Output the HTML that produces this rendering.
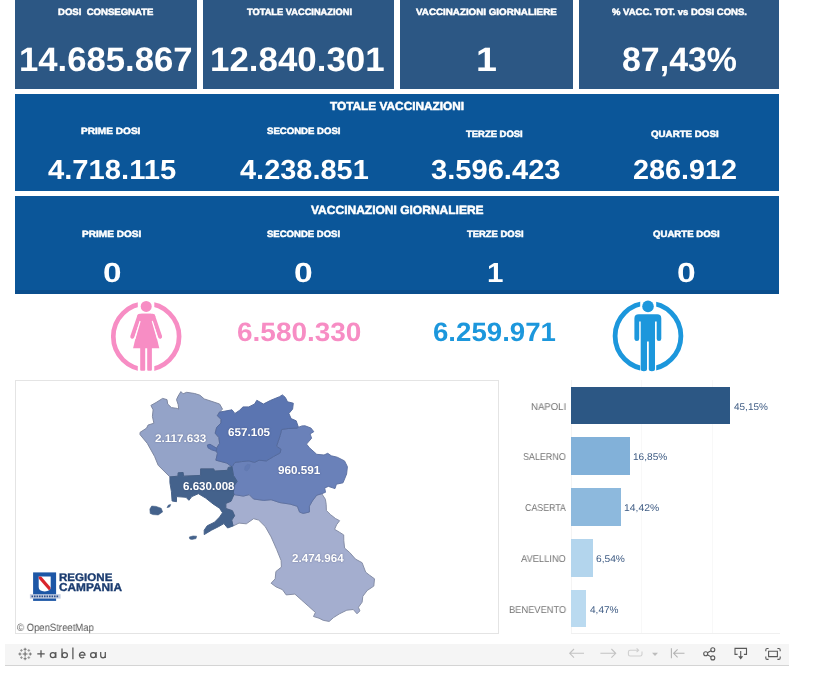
<!DOCTYPE html>
<html lang="it"><head><meta charset="utf-8"><title>Vaccinazioni Regione Campania</title>
<style>
html,body{margin:0;padding:0;background:#fff;}
body{width:822px;height:689px;overflow:hidden;font-family:"Liberation Sans",sans-serif;}
#page{position:relative;width:822px;height:689px;overflow:hidden;background:#fff;}
.bx{position:absolute;}
.k{background:#2c5784;top:0;height:89px;}
.band{background:#0b5699;left:15px;width:764px;}
.t{position:absolute;will-change:transform;text-rendering:geometricPrecision;white-space:pre;line-height:1;transform-origin:0 0;font-family:"Liberation Sans",sans-serif;}
#gfx{position:absolute;left:0;top:0;width:822px;height:689px;}
#mapbox{left:15px;top:380px;width:482px;height:252px;border:1px solid #e4e4e4;background:#fff;}
#tb{left:5px;top:644px;width:784px;height:21px;background:#f5f5f5;border-bottom:1px solid #d4d4d4;}
#osmbg{left:16px;top:621px;width:80px;height:12px;background:rgba(255,255,255,.8);}

</style></head>
<body>
<div id="page">
<div class="bx k" style="left:15px;width:182px"></div>
<div class="bx k" style="left:203px;width:191px"></div>
<div class="bx k" style="left:400px;width:173px"></div>
<div class="bx k" style="left:579px;width:200px"></div>
<div class="bx band" style="top:94px;height:97px"></div>
<div class="bx band" style="top:196px;height:98px"></div>
<div class="bx" id="strip" style="left:15px;top:290px;width:764px;height:4px;background:#0a4e8d"></div>
<div class="bx" id="mapbox"></div>
<div class="bx" id="tb"></div>

<svg id="gfx" viewBox="0 0 822 689" width="822" height="689">
<defs>
<clipPath id="cf"><rect x="100" y="295" width="37.8" height="85"/><rect x="154.3" y="295" width="40" height="85"/></clipPath>
<clipPath id="cm"><rect x="600" y="295" width="40.2" height="85"/><rect x="656.2" y="295" width="40" height="85"/></clipPath>
<clipPath id="sh"><path d="M38.7 576.4H50.7V587Q50.7 591.4 44.7 591.4Q38.7 591.4 38.7 587Z"/></clipPath>
</defs>
<!-- FEMALE ICON -->
<g fill="#f78dc4">
<circle cx="146.2" cy="336.6" r="32.9" fill="none" stroke="#f78dc4" stroke-width="4.7" clip-path="url(#cf)"/>
<circle cx="146.2" cy="306.4" r="5.5"/>
<path d="M141.3 313.8H151.1L159.3 348.2H133.1Z"/>
<path d="M139.6 313.8H152.8Q155 314.2 155.4 316.4L153 320H139.4L137.1 316.4Q137.5 314.2 139.6 313.8Z"/>
<path d="M139.2 316.4L132.3 336.7M153.2 316.4L160.1 336.7" stroke="#f78dc4" stroke-width="4.1" stroke-linecap="round" fill="none"/>
<path d="M140.1 321.2L134.9 338.8M152.3 321.2L157.5 338.8" stroke="#fff" stroke-width="1.2" fill="none"/>
<rect x="140.2" y="347" width="5" height="23.8" rx="1"/>
<rect x="147.2" y="347" width="4.7" height="23.8" rx="1"/>
</g>
<!-- MALE ICON -->
<g fill="#1c97dc">
<circle cx="648" cy="336" r="32.9" fill="none" stroke="#1c97dc" stroke-width="4.8" clip-path="url(#cm)"/>
<circle cx="648" cy="306.4" r="5.8"/>
<path d="M638.8 314.2H657.2Q661.3 314.2 661.3 318.4V338.8Q661.3 341.1 659 341.1Q656.7 341.1 656.7 338.8V321.5H655V369Q655 371.2 651.9 371.2Q648.8 371.2 648.8 369V341.5H647V369Q647 371.2 643.9 371.2Q640.7 371.2 640.7 369V321.5H639.2V338.8Q639.2 341.1 636.9 341.1Q634.4 341.1 634.4 338.8V318.4Q634.4 314.2 638.8 314.2Z"/>
</g>
<!-- BAR CHART -->
<g shape-rendering="crispEdges">
<rect x="571" y="380" width="1" height="253" fill="#f4f4f4"/>
<rect x="641" y="380" width="1" height="253" fill="#f8f8f8"/>
<rect x="712" y="380" width="1" height="253" fill="#f8f8f8"/>
<rect x="571" y="633" width="209" height="1" fill="#f0f0f0"/>
<rect x="571" y="386.6" width="159" height="37.6" fill="#2c5784"/>
<rect x="571" y="437.2" width="59" height="37.5" fill="#82b1d9"/>
<rect x="571" y="488" width="50" height="37.7" fill="#8db9dd"/>
<rect x="571" y="539.3" width="21.9" height="37.6" fill="#b3d5ed"/>
<rect x="571" y="589.6" width="14.9" height="37.7" fill="#badaf0"/>
</g>
<!-- MAP -->
<g stroke="#717a92" stroke-width=".95" stroke-linejoin="round">
<polygon points="233.9,494.6 243.4,496.1 249.2,494.6 253.6,499 263.8,500.4 271.1,499.7 279.9,502.6 290.1,504.1 297.4,506.3 299.6,512.1 303.2,513.4 309.4,512 309.4,506.1 312.3,501 316.7,495.2 321.8,493.7 325.4,499.3 326.2,504.4 326.4,510.5 330.5,514.6 335.6,518.6 339.6,520.7 336.6,524.7 334.6,529.3 339.6,532.3 343.7,534.9 343.8,540.8 344.6,548.1 349.7,552.5 355.5,559.1 362.1,562.7 365.7,572.2 369.4,575.1 374.5,578.8 373.8,586.1 367.2,590.5 362.8,596.3 362.1,602.2 358.4,607.3 359.9,610.9 357,613.8 353.3,609.5 346.8,610.2 339.5,613.8 333.6,617.5 329.2,621.4 323.4,620.4 319,618.2 313.5,616.5 315.4,612.4 308.8,606.5 301.5,600 294.9,594.1 286.2,594.9 282.5,589.7 275.9,586.8 271.1,583.2 275.2,578.8 275.9,571.5 281.4,567.1 281.1,560.5 276.7,549.6 271.1,536.9 265.3,526.7 258.7,520.1 253.6,518.7 246.3,523.8 239,523.1 233.1,526 231.7,520.1 234.6,515.8 232.4,510.7 225.8,508.5 225.8,503.4 231,501.2" fill="#a4aecf" stroke="#838ba3"/>
<polygon points="140,432.4 146.6,428.1 148,425.1 153.9,423.2 152.4,416.4 153.1,409.8 150.9,405.4 156.1,402.5 162.6,398.4 167,399.6 167.7,404 171.4,407.6 177.2,408.4 178.7,409.1 178.2,404.7 176.5,399.6 178.2,396 180.9,391.6 183.1,393.8 186.7,392.3 194.7,393.5 199.9,395.2 204.2,398.9 213,401.8 219.6,404 222.5,409.1 219.6,412 217.4,415.7 221,419.3 221,423 216.7,427.3 215.2,433.2 218.9,437.6 219.6,443.4 215.9,449.2 217.4,453.6 215.9,460.2 226.9,463.1 232,466.8 228.3,467.4 227.6,470.3 214.5,471.1 213.7,468.9 200.6,468.9 200.6,475.4 183.5,476.2 183.1,472.5 178.2,472.8 178,476.2 169.9,476.9 158.2,465.3 154.6,456.5 147.3,443.4 140,434.6" fill="#94a3c8" stroke="#7a849e"/>
<polygon points="298.4,427.3 302,425.9 305,425.8 310.9,428 313.8,431.7 310.1,433.9 311.6,438.2 306.5,444.1 309.4,447.7 316.7,454.3 324,455 327.7,453.3 331.3,455.8 337.2,457.2 344.5,460.9 347.4,466.7 346.6,474 343,482.8 336.4,484.2 335,488.6 328.4,486.4 324.7,487.9 325.5,492.3 321.8,493.7 316.7,495.2 312.3,501 309.4,506.1 309.4,512 303.2,513.4 299.6,512.1 297.4,506.3 290.1,504.1 279.9,502.6 271.1,499.7 263.8,500.4 253.6,499 249.2,494.6 243.4,496.1 233.9,494.6 233.4,492.2 234.2,485.7 237.1,481.3 233.4,475.4 232,466.8 234.9,462.4 241.5,461.6 248.8,460.9 254.6,462.4 259,460.2 266.3,460.9 273.6,456.5 280.2,452.9 280.9,449.2 276.5,446.3 278,441.9 280.2,435.4 281.6,429.5 288.2,428.5 297,428.1" fill="#6a81b9" stroke="#5d71a2"/>
<polygon points="219.6,412 224,411.3 232,409.8 234.9,413.5 239.3,410.5 243,406.9 248.8,406.9 254.6,404 256.8,400.3 263.4,404 270.7,400.3 279.5,396.7 282.4,394.9 285.3,397.4 287.5,401.8 293.3,403.2 292.6,409.1 288.9,413.5 291.1,418.6 296.2,420.8 298.4,427.3 297,428.1 288.2,428.5 281.6,429.5 280.2,435.4 278,441.9 276.5,446.3 280.9,449.2 280.2,452.9 273.6,456.5 266.3,460.9 259,460.2 254.6,462.4 248.8,460.9 241.5,461.6 234.9,462.4 232,466.8 226.9,463.1 215.9,460.2 217.4,453.6 215.9,449.2 219.6,443.4 218.9,437.6 215.2,433.2 216.7,427.3 221,423 221,419.3 217.4,415.7" fill="#5b75b1" stroke="#53699c"/>
<polygon points="207.3,445 210,444.3 214,446.6 217,448.6 216,451.2 211.5,449.8 208,447.8" fill="#5b75b1" stroke="#53699c"/>
<polygon points="245,466.5 247.5,464.2 250.2,464.8 249.5,468 247,471 244.6,470" fill="#627ab4" stroke="#6178ac" stroke-width=".5"/>
<polygon points="169.9,476.9 178,476.2 178.2,472.8 183.1,472.5 183.5,476.2 200.6,475.4 200.6,468.9 213.7,468.9 214.5,471.1 227.6,470.3 228.3,467.4 232,466.8 233.4,475.4 237.1,481.3 234.2,485.7 233.4,492.2 233.9,494.6 231,501.2 225.8,503.4 225.8,508.5 232.4,510.7 234.6,515.8 231.7,520.1 233.1,526 227.6,528 223.9,523.6 218.8,526.5 211.5,530.2 204.2,534.6 204.2,530.2 207.2,525.8 214.5,522.2 219.6,517 222.5,512.7 219.6,508.3 213,503.9 205.7,498.1 198.4,493.7 191.8,496.6 188.9,500.3 186,497.3 176.5,496.6 176.5,501.7 172.1,501 171.4,491.5 169.9,482.7" fill="#44628c" stroke="#435f87"/>
<polygon points="151.7,506.1 156,506.4 161.2,508.3 162.6,511.9 158.2,514.9 153,514.6 150.2,513.4 149.9,509" fill="#44628c" stroke="#435f87" stroke-width=".6"/>
<polygon points="167,507.6 168.5,505 170.7,504.6 169.6,507" fill="#44628c" stroke="#435f87" stroke-width=".6"/>
<polygon points="189.3,537 193,536 196.6,536.2 196,538.6 192,539.4 189.8,539" fill="#44628c" stroke="#435f87" stroke-width=".6"/>
</g>
<!-- LOGO -->
<g>
<rect x="33.1" y="572.4" width="23" height="28.5" fill="#1d57a6"/>
<path d="M38.7 576.4H50.7V587Q50.7 591.4 44.7 591.4Q38.7 591.4 38.7 587Z" fill="#fff"/>
<path d="M37 576.6L39.5 574.6L52.5 589.4L50 591.6Z" fill="#d9252c" clip-path="url(#sh)"/>
<rect x="29.9" y="594.2" width="30.7" height="4.4" fill="#c3cde0"/>
<path d="M31.5 596.4H59" stroke="#2d4f8c" stroke-width="1.6" stroke-dasharray="1.6 0.9" fill="none"/>
</g>
<!-- TOOLBAR -->
<g fill="none" stroke="#6a6a6a" stroke-width="1" stroke-linecap="butt">
<path d="M25.1 651.6V656.4M22.7 654H27.5" stroke-width="1.1"/>
<path d="M25.1 647.8V650.8M23.6 649.3H26.6M25.1 657.2V660.2M23.6 658.7H26.6M18.4 654H21.4M19.9 652.5V655.5M28.8 654H31.8M30.3 652.5V655.5" stroke-width=".9"/>
<path d="M21.4 649V651.8M20 650.4H22.8M28.8 649V651.8M27.4 650.4H30.2M21.4 656.2V659M20 657.6H22.8M28.8 656.2V659M27.4 657.6H30.2" stroke-width=".8" stroke="#8a8a8a"/>
</g>
<g fill="none" stroke="#555" stroke-width="1.25">
<path d="M41 650.2V657.6M37.3 653.9H44.7"/>
<circle cx="52.9" cy="655.1" r="2.6"/><path d="M55.8 652V658.1"/>
<path d="M62 648.4V658.1"/><circle cx="64.8" cy="655.1" r="2.6"/>
<path d="M72.9 647.4V659.3"/>
<path d="M79.6 655H85A2.8 2.8 0 1 0 84.2 657"/>
<circle cx="93.2" cy="655.1" r="2.6"/><path d="M96.1 652V658.1"/>
<path d="M100.7 652V655.6A2.3 2.3 0 0 0 105.3 655.6V652M105.3 655V658.1"/>
</g>
<g fill="none" stroke="#c2c2c2" stroke-width="1.1">
<path d="M584 653.3H569.8M574 649L569.7 653.3L574 657.6"/>
<path d="M600.4 653.3H615.6M611.4 649L615.7 653.3L611.4 657.6"/>
<path d="M637.5 650.2H630.2Q628.4 650.2 628.4 652V654.2Q628.4 656 630.2 656H640.2Q642 656 642 654.2V651.5M636.6 648.3L638.6 650.2L636.6 652.1" stroke="#cfcfcf"/>
<path d="M671.4 648.3V658.3M684.5 653.3H673.6M677.6 649.3L673.6 653.3L677.6 657.3" stroke="#b4b4b4"/>
</g>
<path d="M652 652.8H658L655 656Z" fill="#bdbdbd"/>
<g fill="none" stroke="#595959" stroke-width="1.1">
<circle cx="705.7" cy="653.8" r="2"/><circle cx="712.8" cy="649.8" r="2"/><circle cx="712.8" cy="657.9" r="2"/>
<path d="M707.5 652.8L711 650.8M707.5 654.8L711 656.9"/>
<path d="M737.6 654.4H735V648.4H746.5V654.4H743.9M740.7 651V657.5"/>
<path d="M768.6 651.2H777.4V656.6H768.6Z"/>
<path d="M765.8 651.3V649.9Q765.8 648.5 767.2 648.5H768.6M777.4 648.5H778.8Q780.2 648.5 780.2 649.9V651.3M780.2 656.6V658Q780.2 659.4 778.8 659.4H777.4M768.6 659.4H767.2Q765.8 659.4 765.8 658V656.6"/>
</g>
<path d="M738.2 656.3H743.2L740.7 659.4Z" fill="#595959"/>
</svg>

<span class="t" id="t1" style="left:57.88px;top:8.07px;font-size:9.2px;font-weight:700;color:#fff;-webkit-text-stroke:.5px #fff;transform:scaleX(1.0404)">DOSI&nbsp; CONSEGNATE</span>
<span class="t" id="n1" style="left:18.92px;top:43.51px;font-size:33.91px;font-weight:700;color:#fff;transform:scaleX(1.023)">14.685.867</span>
<span class="t" id="t2" style="left:246.92px;top:8.07px;font-size:9.2px;font-weight:700;color:#fff;-webkit-text-stroke:.5px #fff;transform:scaleX(1.0081)">TOTALE VACCINAZIONI</span>
<span class="t" id="n2" style="left:209.99px;top:43.51px;font-size:33.91px;font-weight:700;color:#fff;transform:scaleX(1.0288)">12.840.301</span>
<span class="t" id="t3" style="left:416.15px;top:8.07px;font-size:9.2px;font-weight:700;color:#fff;-webkit-text-stroke:.5px #fff;transform:scaleX(1.0661)">VACCINAZIONI GIORNALIERE</span>
<span class="t" id="n3" style="left:476.04px;top:43.51px;font-size:33.91px;font-weight:700;color:#fff;transform:scaleX(1.1105)">1</span>
<span class="t" id="t4" style="left:611.96px;top:8.07px;font-size:9.2px;font-weight:700;color:#fff;-webkit-text-stroke:.5px #fff;transform:scaleX(1.0349)">% VACC. TOT. vs DOSI CONS.</span>
<span class="t" id="n4" style="left:621.87px;top:43.51px;font-size:33.91px;font-weight:700;color:#fff;transform:scaleX(0.9962)">87,43%</span>
<span class="t" id="b2t" style="left:330.16px;top:100.69px;font-size:11.74px;font-weight:700;color:#fff;-webkit-text-stroke:.5px #fff;transform:scaleX(1.0086)">TOTALE VACCINAZIONI</span>
<span class="t" id="b2l1" style="left:81.24px;top:127.02px;font-size:9.2px;font-weight:700;color:#fff;-webkit-text-stroke:.5px #fff;transform:scaleX(1.098)">PRIME DOSI</span>
<span class="t" id="b2l2" style="left:266.68px;top:127.02px;font-size:9.2px;font-weight:700;color:#fff;-webkit-text-stroke:.5px #fff;transform:scaleX(1.0425)">SECONDE DOSI</span>
<span class="t" id="b2l3" style="left:466.21px;top:129.92px;font-size:9.2px;font-weight:700;color:#fff;-webkit-text-stroke:.5px #fff;transform:scaleX(1.0281)">TERZE DOSI</span>
<span class="t" id="b2l4" style="left:651.2px;top:129.92px;font-size:9.2px;font-weight:700;color:#fff;-webkit-text-stroke:.5px #fff;transform:scaleX(1.0596)">QUARTE DOSI</span>
<span class="t" id="b2n1" style="left:47.55px;top:155.87px;font-size:27.54px;font-weight:700;color:#fff;transform:scaleX(1.0599)">4.718.115</span>
<span class="t" id="b2n2" style="left:239.56px;top:155.87px;font-size:27.54px;font-weight:700;color:#fff;transform:scaleX(1.051)">4.238.851</span>
<span class="t" id="b2n3" style="left:431.16px;top:155.87px;font-size:27.54px;font-weight:700;color:#fff;transform:scaleX(1.0576)">3.596.423</span>
<span class="t" id="b2n4" style="left:632.7px;top:155.87px;font-size:27.54px;font-weight:700;color:#fff;transform:scaleX(1.0455)">286.912</span>
<span class="t" id="b3t" style="left:310.91px;top:204.77px;font-size:11.88px;font-weight:700;color:#fff;-webkit-text-stroke:.5px #fff;transform:scaleX(1.0114)">VACCINAZIONI GIORNALIERE</span>
<span class="t" id="b3l1" style="left:82.15px;top:230.02px;font-size:9.2px;font-weight:700;color:#fff;-webkit-text-stroke:.5px #fff;transform:scaleX(1.0942)">PRIME DOSI</span>
<span class="t" id="b3l2" style="left:266.52px;top:230.02px;font-size:9.2px;font-weight:700;color:#fff;-webkit-text-stroke:.5px #fff;transform:scaleX(1.0369)">SECONDE DOSI</span>
<span class="t" id="b3l3" style="left:466.96px;top:230.02px;font-size:9.2px;font-weight:700;color:#fff;-webkit-text-stroke:.5px #fff;transform:scaleX(1.026)">TERZE DOSI</span>
<span class="t" id="b3l4" style="left:652.87px;top:230.02px;font-size:9.2px;font-weight:700;color:#fff;-webkit-text-stroke:.5px #fff;transform:scaleX(1.0453)">QUARTE DOSI</span>
<span class="t" id="b3n1" style="left:102.53px;top:258.97px;font-size:27.54px;font-weight:700;color:#fff;transform:scaleX(1.2093)">0</span>
<span class="t" id="b3n2" style="left:294.16px;top:258.97px;font-size:27.54px;font-weight:700;color:#fff;transform:scaleX(1.2208)">0</span>
<span class="t" id="b3n3" style="left:486.72px;top:258.97px;font-size:27.54px;font-weight:700;color:#fff;transform:scaleX(1.0741)">1</span>
<span class="t" id="b3n4" style="left:677.36px;top:258.97px;font-size:27.54px;font-weight:700;color:#fff;transform:scaleX(1.2208)">0</span>
<span class="t" id="gf" style="left:237.25px;top:319.12px;font-size:26.52px;font-weight:700;color:#f78dc4;transform:scaleX(1.0548)">6.580.330</span>
<span class="t" id="gm" style="left:432.66px;top:319.12px;font-size:26.52px;font-weight:700;color:#1c97dc;transform:scaleX(1.042)">6.259.971</span>
<span class="t" id="m1" style="left:154.95px;top:433.65px;font-size:11.01px;font-weight:700;color:#fff;text-shadow:0 0 1.5px rgba(40,50,90,.55);transform:scaleX(1.0631)">2.117.633</span>
<span class="t" id="m2" style="left:227.75px;top:428.3px;font-size:11.3px;font-weight:700;color:#fff;text-shadow:0 0 1.5px rgba(40,50,90,.55);transform:scaleX(1.0307)">657.105</span>
<span class="t" id="m3" style="left:277.83px;top:466.26px;font-size:11.59px;font-weight:700;color:#fff;text-shadow:0 0 1.5px rgba(40,50,90,.55);transform:scaleX(1.0107)">960.591</span>
<span class="t" id="m4" style="left:183.04px;top:482.26px;font-size:11.59px;font-weight:700;color:#fff;text-shadow:0 0 1.5px rgba(40,50,90,.55);transform:scaleX(0.9984)">6.630.008</span>
<span class="t" id="m5" style="left:292.15px;top:554.26px;font-size:11.59px;font-weight:700;color:#fff;text-shadow:0 0 1.5px rgba(40,50,90,.55);transform:scaleX(1.0033)">2.474.964</span>
<span class="t" id="l1" style="left:531.03px;top:402.66px;font-size:9.93px;font-weight:400;color:#737373;transform:scaleX(0.9641)">NAPOLI</span>
<span class="t" id="l2" style="left:522.95px;top:452.61px;font-size:9.93px;font-weight:400;color:#737373;transform:scaleX(0.9018)">SALERNO</span>
<span class="t" id="l3" style="left:524.65px;top:503.61px;font-size:9.93px;font-weight:400;color:#737373;transform:scaleX(0.8913)">CASERTA</span>
<span class="t" id="l4" style="left:521.3px;top:555.41px;font-size:9.93px;font-weight:400;color:#737373;transform:scaleX(0.9376)">AVELLINO</span>
<span class="t" id="l5" style="left:508.96px;top:606.21px;font-size:9.93px;font-weight:400;color:#737373;transform:scaleX(0.937)">BENEVENTO</span>
<span class="t" id="v1" style="left:734.11px;top:402.64px;font-size:9.71px;font-weight:400;color:#3f5c84;transform:scaleX(1.0289)">45,15%</span>
<span class="t" id="v2" style="left:633.21px;top:452.62px;font-size:9.86px;font-weight:400;color:#3f5c84;transform:scaleX(1.0258)">16,85%</span>
<span class="t" id="v3" style="left:624.17px;top:503.62px;font-size:9.86px;font-weight:400;color:#3f5c84;transform:scaleX(1.0518)">14,42%</span>
<span class="t" id="v4" style="left:596.09px;top:554.82px;font-size:9.86px;font-weight:400;color:#3f5c84;transform:scaleX(1.0368)">6,54%</span>
<span class="t" id="v5" style="left:589.8px;top:605.72px;font-size:9.86px;font-weight:400;color:#3f5c84;transform:scaleX(1.022)">4,47%</span>
<span class="t" id="lg1" style="left:59.48px;top:573.45px;font-size:11.01px;font-weight:700;color:#1b3c70;-webkit-text-stroke:.35px #1b3c70;transform:scaleX(1.0522)">REGIONE</span>
<span class="t" id="lg2" style="left:59.38px;top:583.38px;font-size:11.45px;font-weight:700;color:#1b3c70;-webkit-text-stroke:.35px #1b3c70;transform:scaleX(1.0354)">CAMPANIA</span>
<span class="t" id="osm" style="left:17.31px;top:622.61px;font-size:10.58px;font-weight:400;color:#555;transform:scaleX(0.8992)">© OpenStreetMap</span>
</div>
</body></html>
